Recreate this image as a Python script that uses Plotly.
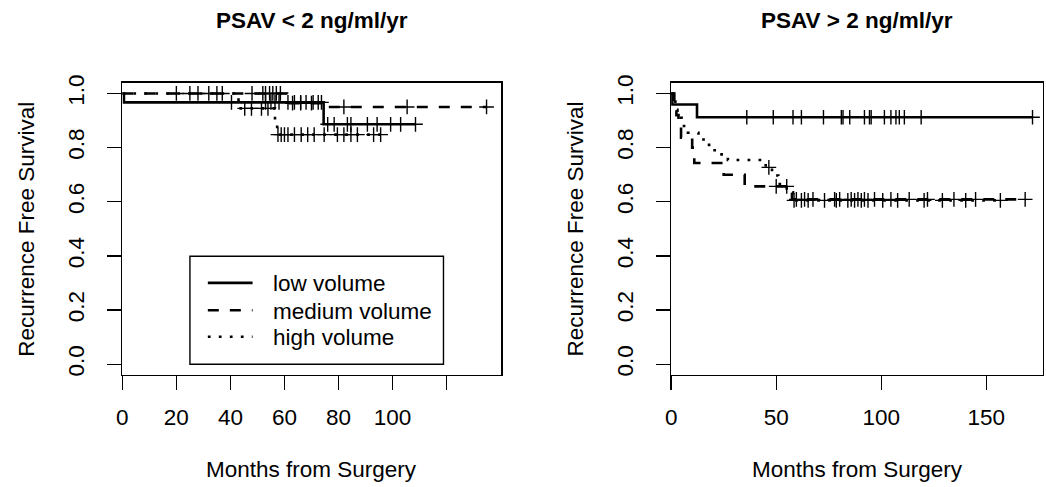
import plotly.graph_objects as go
import numpy as np

W, H = 1046, 487
FONT = "Liberation Sans, Arial, Helvetica, sans-serif"
FS = 22.5

# ---------------- data ----------------
# Left panel: PSAV < 2 ng/ml/yr  (event times, survival after each event)
L_low_t = [0.6, 74.5]
L_low_s = [0.967, 0.886]
L_low_end = 108.5
L_low_cens = [40.4, 53, 55, 56.5, 58, 61.3, 63.7, 66, 68, 70.6, 72.5, 73.7,
              76, 78.4, 83.3, 84.6, 90.7, 94.3, 99.3, 103, 108.5]

L_med_t = [61, 75]
L_med_s = [0.964, 0.950]
L_med_end = 134.8
L_med_cens = [25, 28, 32, 35, 37, 48, 52, 53, 54.5, 55.7, 57, 58.5, 63, 66, 70,
              82, 105.4, 134.8]

L_high_t = [43, 56.5, 57.3]
L_high_s = [0.945, 0.896, 0.848]
L_high_end = 95.6
L_high_cens = [20, 45.3, 47.8, 51.5, 53.9, 57.6, 58.8, 60, 61.3, 63.7, 66.2, 68.6,
               71, 74.7, 79.6, 82, 84.6, 87, 93, 95.6]

# Right panel: PSAV > 2 ng/ml/yr
R_low_t = [0.5, 12.3]
R_low_s = [0.959, 0.912]
R_low_end = 172
R_low_cens = [36, 48.6, 58, 62, 72.5, 81, 81.8, 85, 92, 94.4, 95.2, 101.5, 104.6,
              107, 108.6, 111, 119, 172]

R_med_t = [1.5, 2.5, 3.5, 4.7, 10, 11, 25, 35, 57.5]
R_med_s = [0.96, 0.92, 0.877, 0.837, 0.80, 0.743, 0.70, 0.657, 0.609]
R_med_end = 168.5
R_med_cens = [50, 55, 59.6, 63.5, 67.5, 77.8, 80.2, 85.7, 88.9, 92, 96.8, 104.6,
              113.3, 122, 134.6, 144.9, 168.5]

R_high_t = [1, 2, 3, 5, 8, 13, 17, 20, 23, 27, 45, 48, 51, 55, 58]
R_high_s = [0.97, 0.94, 0.91, 0.88, 0.855, 0.83, 0.81, 0.79, 0.775, 0.754,
            0.727, 0.697, 0.665, 0.635, 0.605]
R_high_end = 156.7
R_high_cens = [46.5, 58.5, 62, 65.2, 73, 78.6, 84.1, 87.3, 90.5, 93.7, 100.7,
               107.8, 120.4, 129.1, 140.2, 156.7]

names = ["low volume", "medium volume", "high volume"]
dashes = ["solid", "11px,11px", "2.75px,8.25px"]

L_xticks = [0, 20, 40, 60, 80, 100, 120]
L_xtext = ["0", "20", "40", "60", "80", "100", ""]
R_xticks = [0, 50, 100, 150]
R_xtext = ["0", "50", "100", "150"]
y_ticks = [0, 0.2, 0.4, 0.6, 0.8, 1.0]
y_text = ["0.0", "0.2", "0.4", "0.6", "0.8", "1.0"]

titles = ["PSAV < 2 ng/ml/yr", "PSAV > 2 ng/ml/yr"]
x_title = "Months from Surgery"
y_title = "Recurrence Free Survival"


def step_curve(t, s, end):
    x = [0] + list(t) + [end]
    y = [1.0] + list(s) + [s[-1]]
    return x, y


def surv_at(t, s, times):
    t = np.asarray(t); s = np.asarray(s)
    out = []
    for c in times:
        idx = np.searchsorted(t, c, side="right") - 1
        out.append(1.0 if idx < 0 else float(s[idx]))
    return out


fig = go.Figure()

panels = [
    ("x", "y", [(L_low_t, L_low_s, L_low_end, L_low_cens),
                (L_med_t, L_med_s, L_med_end, L_med_cens),
                (L_high_t, L_high_s, L_high_end, L_high_cens)]),
    ("x2", "y2", [(R_low_t, R_low_s, R_low_end, R_low_cens),
                  (R_med_t, R_med_s, R_med_end, R_med_cens),
                  (R_high_t, R_high_s, R_high_end, R_high_cens)]),
]

LW = 2.6
for xa, ya, curves in panels:
    for i, (t, s, end, cens) in enumerate(curves):
        x, y = step_curve(t, s, end)
        fig.add_trace(go.Scatter(
            x=x, y=y, mode="lines",
            line=dict(color="black", width=LW, dash=dashes[i], shape="hv"),
            name=names[i], showlegend=False, xaxis=xa, yaxis=ya, hoverinfo="skip"))
        fig.add_trace(go.Scatter(
            x=cens, y=surv_at(t, s, cens), mode="markers",
            marker=dict(symbol="cross-thin", size=10.5, color="black",
                        line=dict(color="black", width=1.4)),
            showlegend=False, xaxis=xa, yaxis=ya, hoverinfo="skip"))

axis_common = dict(showline=True, mirror=True, linecolor="black", linewidth=1.4,
                   ticks="outside", ticklen=13.5, tickwidth=1.4, tickcolor="black",
                   showgrid=False, zeroline=False,
                   tickfont=dict(family=FONT, size=FS, color="black"))

yb, yt = 1 - 374 / H, 1 - 76 / H
fig.update_layout(
    width=W, height=H, autosize=False,
    margin=dict(l=0, r=0, t=0, b=0),
    paper_bgcolor="white", plot_bgcolor="white",
    font=dict(family=FONT, size=FS, color="black"),
    showlegend=False,
    xaxis=dict(domain=[117 / W, 498 / W], range=[0, 140.2], tickmode="array",
               tickvals=L_xticks, ticktext=L_xtext, anchor="y", ticklabelstandoff=8,
               **axis_common),
    yaxis=dict(domain=[yb, yt], range=[-0.04, 1.04], tickmode="array",
               tickvals=y_ticks, ticktext=y_text, tickangle=-90, anchor="x",
               ticklabelstandoff=14, **axis_common),
    xaxis2=dict(domain=[669 / W, 1043 / W], range=[0, 177], tickmode="array",
                tickvals=R_xticks, ticktext=R_xtext, anchor="y2", ticklabelstandoff=8,
                **axis_common),
    yaxis2=dict(domain=[yb, yt], range=[-0.04, 1.04], tickmode="array",
                tickvals=y_ticks, ticktext=y_text, tickangle=-90, anchor="x2",
                ticklabelstandoff=14, **axis_common),
)

ann = []
shapes = []
for cx, title in [((117 + 498) / 2, titles[0]), ((669 + 1043) / 2, titles[1])]:
    ann.append(dict(x=cx / W, y=1 - 13 / H, xref="paper", yref="paper", text=title,
                    showarrow=False, xanchor="center", yanchor="middle",
                    font=dict(family=FONT, size=FS, color="black", weight="bold")))
    ann.append(dict(x=cx / W, y=1 - 470 / H, xref="paper", yref="paper", text=x_title,
                    showarrow=False, xanchor="center", yanchor="middle",
                    font=dict(family=FONT, size=FS, color="black")))
for lx in [21, 573]:
    ann.append(dict(x=lx / W, y=1 - 225 / H, xref="paper", yref="paper",
                    text=y_title, textangle=-90,
                    showarrow=False, xanchor="center", yanchor="middle",
                    font=dict(family=FONT, size=FS, color="black")))

# legend box (left panel), drawn like R's legend()
shapes.append(dict(type="rect", xref="paper", yref="paper",
                   x0=185 / W, x1=440 / W, y0=1 - 363 / H, y1=1 - 253 / H,
                   line=dict(color="black", width=1.4), fillcolor="white", layer="above"))
for i, ry in enumerate([280, 308, 335]):
    shapes.append(dict(type="line", xref="paper", yref="paper",
                       x0=203 / W, x1=248 / W, y0=1 - ry / H, y1=1 - ry / H,
                       line=dict(color="black", width=LW, dash=dashes[i]), layer="above"))
    ann.append(dict(x=267 / W, y=1 - (ry + 1) / H, xref="paper", yref="paper",
                    text=names[i], showarrow=False, xanchor="left", yanchor="middle",
                    font=dict(family=FONT, size=FS, color="black")))

fig.update_layout(annotations=ann, shapes=shapes)

fig.write_html("out.html",
               config={"displayModeBar": False, "staticPlot": True},
               post_script="document.body.style.margin='0';"
                           "document.body.style.padding='0';"
                           "document.documentElement.style.overflow='hidden';")
